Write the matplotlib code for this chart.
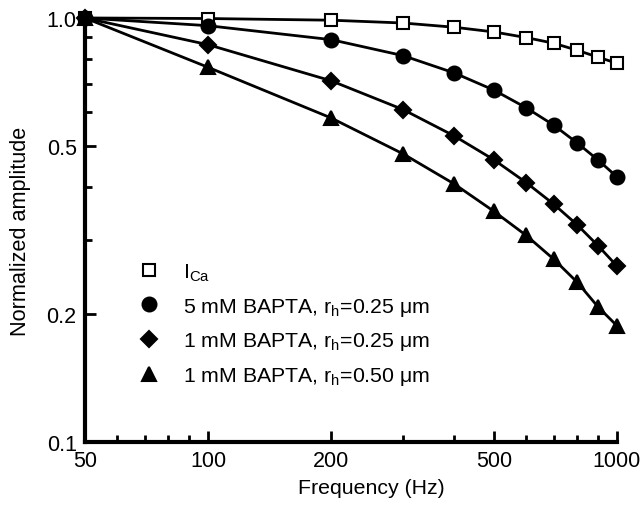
import matplotlib
matplotlib.use("Agg")
import matplotlib.pyplot as plt
from matplotlib.lines import Line2D
from matplotlib.ticker import FixedLocator, NullFormatter

plt.rcParams["font.family"] = ["Liberation Sans", "DejaVu Sans"]
plt.rcParams["mathtext.fontset"] = "custom"
plt.rcParams["mathtext.rm"] = "Liberation Sans"

freq = [50, 100, 200, 300, 400, 500, 600, 700, 800, 900, 1000]
i_ca = [1.0, 0.997, 0.988, 0.973, 0.951, 0.927, 0.899, 0.872, 0.839, 0.808, 0.782]
bapta5_025 = [1.0, 0.959, 0.889, 0.815, 0.742, 0.676, 0.614, 0.559, 0.507, 0.462, 0.422]
bapta1_025 = [1.0, 0.865, 0.711, 0.608, 0.527, 0.463, 0.409, 0.364, 0.325, 0.290, 0.260]
bapta1_050 = [1.0, 0.765, 0.581, 0.478, 0.406, 0.350, 0.307, 0.270, 0.238, 0.208, 0.188]

labels = [r"I$_{\mathrm{Ca}}$",
          r"5 mM BAPTA, r$_{\mathrm{h}}$=0.25 $\mathrm{\mu}$m",
          r"1 mM BAPTA, r$_{\mathrm{h}}$=0.25 $\mathrm{\mu}$m",
          r"1 mM BAPTA, r$_{\mathrm{h}}$=0.50 $\mathrm{\mu}$m"]

x_major = [50, 100, 200, 500, 1000]
x_minor = [60, 70, 80, 90, 300, 400, 600, 700, 800, 900]
y_major = [0.1, 0.2, 0.5, 1.0]
y_minor = [0.3, 0.4, 0.6, 0.7, 0.8, 0.9]

fig = plt.figure(figsize=(6.44, 5.06), dpi=100)
ax = fig.add_axes([0.132, 0.1245, 0.826, 0.838])

series = [i_ca, bapta5_025, bapta1_025, bapta1_050]
styles = [dict(marker="s", mfc="white", ms=8.5),
          dict(marker="o", mfc="black", ms=10),
          dict(marker="D", mfc="black", ms=8),
          dict(marker="^", mfc="black", ms=10.5)]
for ys, st in zip(series, styles):
    ax.plot(freq, ys, color="black", lw=2, mec="black", mew=1.5,
            clip_on=False, zorder=3, **st)

ax.set_xscale("log")
ax.set_yscale("log")
ax.set_xlim(50, 1000)
ax.set_ylim(0.1, 1.0)

ax.xaxis.set_major_locator(FixedLocator(x_major))
ax.xaxis.set_minor_locator(FixedLocator(x_minor))
ax.set_xticklabels([str(v) for v in x_major])
ax.xaxis.set_minor_formatter(NullFormatter())
ax.yaxis.set_major_locator(FixedLocator(y_major))
ax.yaxis.set_minor_locator(FixedLocator(y_minor))
ax.set_yticklabels(["0.1", "0.2", "0.5", "1.0"])
ax.yaxis.set_minor_formatter(NullFormatter())

ax.tick_params(which="both", direction="in", width=2, labelsize=15.5,
               top=False, right=False)
ax.tick_params(which="major", length=8, pad=6)
ax.tick_params(which="minor", length=5)

for side in ["top", "right"]:
    ax.spines[side].set_visible(False)
for side in ["left", "bottom"]:
    ax.spines[side].set_linewidth(3)

ax.set_xlabel("Frequency (Hz)", fontsize=15.3)
ax.xaxis.set_label_coords(0.539, -0.085)
ax.set_ylabel("Normalized amplitude", fontsize=15.6)
ax.yaxis.set_label_coords(-0.102, 0.5)

handles = [Line2D([], [], color="black", ls="none", mec="black", mew=1.5, **st)
           for st in styles]
ax.legend(handles, labels, loc="upper left", bbox_to_anchor=(0.08, 0.446),
          frameon=False, fontsize=15.3, handlelength=1.2, handletextpad=1.0,
          labelspacing=0.6, borderaxespad=0)

fig.savefig("out.png", dpi=100)
